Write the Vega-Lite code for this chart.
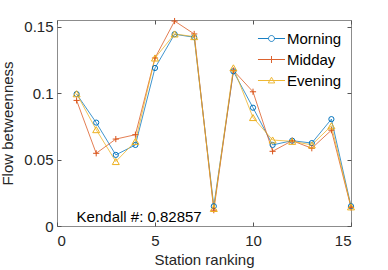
{
  "$schema": "https://vega.github.io/schema/vega-lite/v6.json",
  "autosize": {"type": "none"},
  "padding": {"left": 57, "top": 20, "right": 37, "bottom": 44},
  "width": 294,
  "height": 206,
  "background": "white",
  "config": {
    "view": {"stroke": "#8c8c8c", "strokeWidth": 1},
    "font": "Liberation Sans",
    "axis": {"grid": false, "domain": false, "tickColor": "#555", "tickSize": -4, "labelFont": "Liberation Sans", "labelFontSize": 15, "labelColor": "#262626", "titleFont": "Liberation Sans", "titleFontSize": 15, "titleFontWeight": "normal", "titleColor": "#262626"},
    "legend": {"title": null, "orient": "none", "legendX": 207, "legendY": 11, "padding": 0, "rowPadding": 5, "symbolSize": 117, "labelOffset": 8, "labelFontSize": 15, "labelFont": "Liberation Sans", "labelColor": "#000", "symbolStrokeWidth": 1, "symbolOpacity": 0.9}
  },
  "data": {"values": [
    {"x": 1, "series": "Morning", "y": 0.0993},
    {"x": 2, "series": "Morning", "y": 0.0778},
    {"x": 3, "series": "Morning", "y": 0.0535},
    {"x": 4, "series": "Morning", "y": 0.061},
    {"x": 5, "series": "Morning", "y": 0.1189},
    {"x": 6, "series": "Morning", "y": 0.1443},
    {"x": 7, "series": "Morning", "y": 0.142},
    {"x": 8, "series": "Morning", "y": 0.0149},
    {"x": 9, "series": "Morning", "y": 0.1164},
    {"x": 10, "series": "Morning", "y": 0.089},
    {"x": 11, "series": "Morning", "y": 0.061},
    {"x": 12, "series": "Morning", "y": 0.0642},
    {"x": 13, "series": "Morning", "y": 0.0624},
    {"x": 14, "series": "Morning", "y": 0.0804},
    {"x": 15, "series": "Morning", "y": 0.0149},
    {"x": 1, "series": "Midday", "y": 0.0945},
    {"x": 2, "series": "Midday", "y": 0.0547},
    {"x": 3, "series": "Midday", "y": 0.0654},
    {"x": 4, "series": "Midday", "y": 0.0687},
    {"x": 5, "series": "Midday", "y": 0.1264},
    {"x": 6, "series": "Midday", "y": 0.1542},
    {"x": 7, "series": "Midday", "y": 0.1445},
    {"x": 8, "series": "Midday", "y": 0.0119},
    {"x": 9, "series": "Midday", "y": 0.117},
    {"x": 10, "series": "Midday", "y": 0.101},
    {"x": 11, "series": "Midday", "y": 0.0562},
    {"x": 12, "series": "Midday", "y": 0.0642},
    {"x": 13, "series": "Midday", "y": 0.0585},
    {"x": 14, "series": "Midday", "y": 0.0721},
    {"x": 15, "series": "Midday", "y": 0.014},
    {"x": 1, "series": "Evening", "y": 0.0995},
    {"x": 2, "series": "Evening", "y": 0.0725},
    {"x": 3, "series": "Evening", "y": 0.0485},
    {"x": 4, "series": "Evening", "y": 0.0637},
    {"x": 5, "series": "Evening", "y": 0.1264},
    {"x": 6, "series": "Evening", "y": 0.1445},
    {"x": 7, "series": "Evening", "y": 0.1425},
    {"x": 8, "series": "Evening", "y": 0.0132},
    {"x": 9, "series": "Evening", "y": 0.119},
    {"x": 10, "series": "Evening", "y": 0.0816},
    {"x": 11, "series": "Evening", "y": 0.0647},
    {"x": 12, "series": "Evening", "y": 0.0637},
    {"x": 13, "series": "Evening", "y": 0.061},
    {"x": 14, "series": "Evening", "y": 0.0754},
    {"x": 15, "series": "Evening", "y": 0.0144}
  ]},
  "resolve": {"axis": {"x": "independent", "y": "independent"}, "scale": {"shape": "independent", "size": "independent", "color": "independent"}},
  "layer": [
    {
      "mark": {"type": "line", "strokeWidth": 1, "opacity": 0.75},
      "encoding": {
        "x": {"field": "x", "type": "quantitative", "scale": {"domain": [0, 15], "nice": false}, "axis": {"orient": "bottom", "values": [0, 5, 10, 15], "title": "Station ranking", "labelPadding": 11, "titlePadding": 4}},
        "y": {"field": "y", "type": "quantitative", "scale": {"domain": [0, 0.155], "nice": false}, "axis": {"orient": "left", "values": [0, 0.05, 0.1, 0.15], "title": "Flow betweenness", "labelPadding": 8, "titlePadding": 8, "format": "~g"}},
        "color": {"field": "series", "type": "nominal", "scale": {"domain": ["Morning", "Midday", "Evening"], "range": ["#0072BD", "#D95319", "#EDB120"]}, "legend": null}
      }
    },
    {
      "mark": {"type": "point", "filled": false, "strokeWidth": 1, "opacity": 1},
      "encoding": {
        "x": {"field": "x", "type": "quantitative", "axis": {"orient": "top", "values": [0, 5, 10, 15], "labels": false, "title": null}},
        "y": {"field": "y", "type": "quantitative", "axis": {"orient": "right", "values": [0, 0.05, 0.1, 0.15], "labels": false, "title": null}},
        "color": {"field": "series", "type": "nominal", "scale": {"domain": ["Morning", "Midday", "Evening"], "range": ["#0072BD", "#D95319", "#EDB120"]}, "legend": null},
        "size": {"field": "series", "type": "nominal", "scale": {"domain": ["Morning", "Midday", "Evening"], "range": [27, 49, 36]}, "legend": null},
        "shape": {"field": "series", "type": "nominal", "scale": {"domain": ["Morning", "Midday", "Evening"], "range": ["circle", "M-1,0H1M0,-1V1", "triangle-up"]}, "legend": null}
      }
    },
    {
      "mark": {"type": "point", "filled": false, "opacity": 0},
      "encoding": {
        "x": {"field": "x", "type": "quantitative", "axis": null},
        "y": {"field": "y", "type": "quantitative", "axis": null},
        "color": {"field": "series", "type": "nominal", "scale": {"domain": ["Morning", "Midday", "Evening"], "range": ["#0072BD", "#D95319", "#EDB120"]}},
        "shape": {"field": "series", "type": "nominal", "scale": {"domain": ["Morning", "Midday", "Evening"], "range": ["M-2.5,0H-0.55M0.55,0H2.5M0.55,0A0.55,0.55 0 1,1 -0.55,0A0.55,0.55 0 1,1 0.55,0", "M-2.5,0H2.5M0,-0.65V0.65", "M-2.5,0H2.5M0,-0.6L0.6,0.45L-0.6,0.45Z"]}}
      }
    },
    {
      "data": {"values": [{"x": 1, "y": 0.007, "label": "Kendall #: 0.82857"}]},
      "mark": {"type": "text", "align": "left", "baseline": "middle", "fontSize": 15, "font": "Liberation Sans", "color": "#000"},
      "encoding": {
        "x": {"field": "x", "type": "quantitative", "axis": null},
        "y": {"field": "y", "type": "quantitative", "axis": null},
        "text": {"field": "label"}
      }
    }
  ]
}
